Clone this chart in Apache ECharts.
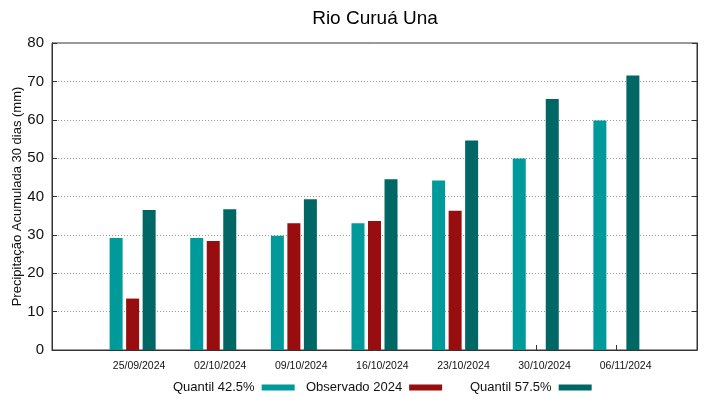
<!DOCTYPE html>
<html>
<head>
<meta charset="utf-8">
<script src="https://cdn.jsdelivr.net/npm/echarts@6/dist/echarts.min.js"></script>
<style>
  html, body { margin: 0; padding: 0; background: #fff; }
  #chart { width: 719px; height: 399px; }
</style>
</head>
<body>
<div id="chart"></div>
<script>
const dates = ['25/09/2024', '02/10/2024', '09/10/2024', '16/10/2024', '23/10/2024', '30/10/2024', '06/11/2024'];
const quantil425 = [29.2, 29.2, 29.8, 33.0, 44.2, 49.9, 59.8];
const observado = [13.4, 28.4, 33.0, 33.6, 36.3, null, null];
const quantil575 = [36.5, 36.7, 39.3, 44.5, 54.6, 65.4, 71.5];

const teal = '#009a9a';
const red = '#980d0d';
const darkTeal = '#006765';

// gnuplot puts the bars one slot in from each edge of the box
const cats = [''].concat(dates, ['']);
const pad = arr => [null].concat(arr, [null]);
// date labels sit a little right of the bar groups
const labelPos = dates.map((d, i) => 1.08 + i * 1.0058);

const chart = echarts.init(document.getElementById('chart'));
const font = 'Liberation Sans, Arial, sans-serif';

function legend(name, left) {
  return {
    data: [name], left: left, top: 381, align: 'right', icon: 'rect', padding: 0,
    itemWidth: 33, itemHeight: 6, itemGap: 0,
    textStyle: { fontFamily: font, fontSize: 13, color: '#111', padding: [0, 2, 0, 0] }
  };
}

const option = {
  animation: false,
  backgroundColor: '#fff',
  title: {
    text: 'Rio Curuá Una', left: 370, top: 4, textAlign: 'center',
    textStyle: { fontFamily: font, fontSize: 19, fontWeight: 'normal', color: '#000' }
  },
  legend: [legend('Quantil 42.5%', 173), legend('Observado 2024', 306), legend('Quantil 57.5%', 470)],
  grid: { left: 52, right: 22, top: 43, bottom: 49, show: true, borderColor: '#333', borderWidth: 1,
    outerBoundsMode: 'none', containLabel: false },
  xAxis: [
    {
      type: 'category', data: cats, boundaryGap: false,
      axisLine: { lineStyle: { color: '#333' } },
      axisTick: { inside: true, length: 5, lineStyle: { color: '#333' },
        interval: (i) => i > 0 && i < cats.length - 1 },
      axisLabel: { show: false },
      splitLine: { show: false }
    },
    {
      type: 'value', min: 0, max: cats.length - 1, position: 'bottom',
      axisLine: { show: false }, axisTick: { show: false }, splitLine: { show: false },
      axisLabel: {
        customValues: labelPos, margin: 11,
        fontFamily: font, fontSize: 10.5, color: '#111',
        formatter: v => dates[Math.round((v - 1.08) / 1.0058)] || ''
      }
    }
  ],
  yAxis: [
    {
      type: 'value', min: 0, max: 80, interval: 10,
      name: 'Precipitação Acumulada 30 dias (mm)', nameLocation: 'middle', nameGap: 28,
      nameMoveOverlap: false,
      nameTextStyle: { fontFamily: font, fontSize: 13, color: '#111' },
      axisLine: { show: true, lineStyle: { color: '#333' } },
      axisTick: { show: true, inside: true, length: 5, lineStyle: { color: '#333' } },
      axisLabel: { fontFamily: font, fontSize: 15, color: '#111', margin: 8 },
      splitLine: { show: true, lineStyle: { color: '#999', type: [1, 2], width: 1 } }
    },
    {
      type: 'value', min: 0, max: 80, interval: 10, position: 'right',
      axisLine: { show: true, lineStyle: { color: '#333' } },
      axisTick: { show: true, inside: true, length: 5, lineStyle: { color: '#333' } },
      axisLabel: { show: false }, splitLine: { show: false }
    }
  ],
  series: [
    { name: 'Quantil 42.5%', type: 'bar', data: pad(quantil425), barWidth: 13, barGap: '27%',
      itemStyle: { color: teal } },
    { name: 'Observado 2024', type: 'bar', data: pad(observado), barWidth: 13, barGap: '27%',
      itemStyle: { color: red } },
    { name: 'Quantil 57.5%', type: 'bar', data: pad(quantil575), barWidth: 13, barGap: '27%',
      itemStyle: { color: darkTeal } }
  ]
};

chart.setOption(option);
</script>
</body>
</html>
